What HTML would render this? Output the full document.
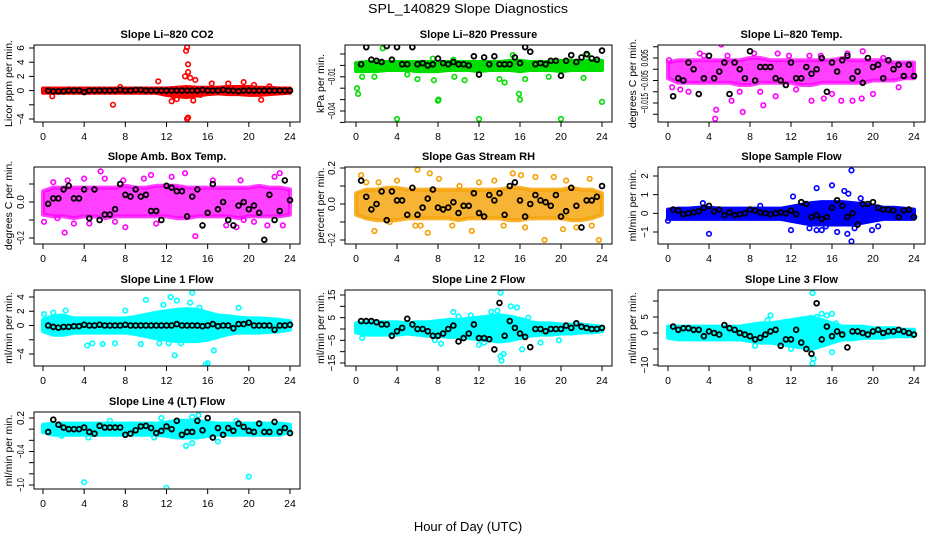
<!DOCTYPE html>
<html><head><meta charset="utf-8"><style>
html,body{margin:0;padding:0;background:#fff;}
svg{display:block;font-family:"Liberation Sans",sans-serif;}
</style></head><body>
<svg id="fig" width="936" height="540" viewBox="0 0 936 540" xmlns="http://www.w3.org/2000/svg">
<rect x="0" y="0" width="936" height="540" fill="#fff"/>
<text x="468" y="13" text-anchor="middle" font-size="13" textLength="200" lengthAdjust="spacingAndGlyphs">SPL_140829  Slope Diagnostics</text>
<text x="468" y="531" text-anchor="middle" font-size="13">Hour of Day (UTC)</text>
</svg>
<script>
const hourTicks = [0,4,8,12,16,20,24];
const blkHours = [0.5,1,1.5,2,2.5,3,3.5,4,4.5,5,5.5,6,6.5,7,7.5,8,8.5,9,9.5,10,10.5,11,11.5,12,12.5,13,13.5,14,14.5,15,15.5,16,16.5,17,17.5,18,18.5,19,19.5,20,20.5,21,21.5,22,22.5,23,23.5,24];

// CO2
const co2Ticks = [6,4,2,0,-2,-4];
const co2Labels = ['6','4','2','0','','-4'];
const co2BandLo = [-0.3,-0.3,-0.3,-0.3,-0.3,-0.3,-0.3,-0.3,-0.3,-0.3,-0.3,-0.3,-0.6,-0.8,-0.9,-0.7,-0.5,-0.4,-0.5,-0.5,-0.6,-0.6,-0.5,-0.4,-0.3];
const co2BandHi = [0.3,0.3,0.3,0.3,0.3,0.3,0.3,0.3,0.3,0.3,0.3,0.3,0.3,0.4,0.5,0.4,0.4,0.4,0.5,0.5,0.5,0.4,0.4,0.3,0.3];
const co2OutX = [14,13.9,14.1,14.1,13.8,14.3,14.8,11.2,6.8,14,14.1,19.5,16.4,12.5,13,14.6,21.2,0.9,7.5,18,20.5,22,12.7,15.3];
const co2OutY = [6.1,5.6,3.7,2.6,2.0,1.8,1.5,1.3,-2,-4,-3.8,1.2,1,-1.5,-1.2,-1.4,-1.3,-0.8,0.5,1,0.8,0.6,-0.8,-0.6];
const co2Blk = [0,-0.1,-0.1,-0.1,0,0,0,-0.2,0,0,0,0,0,0,0.1,0,0,0.1,0.1,0,0,0,0,0,0,0,0,0,0,0,0.1,0,0,0,0.1,0,0,-0.1,0,0,0,0,0,0,0,0,0,0];

// Pressure
const presTicks = [0.01,0,-0.01,-0.02,-0.03,-0.04,-0.05];
const presLabels = ['','','-0.01','','','-0.04',''];
const presBandLo = [-0.005,-0.005,-0.005,-0.004,-0.004,-0.004,-0.005,-0.005,-0.005,-0.004,-0.004,-0.004,-0.005,-0.004,-0.004,-0.004,-0.005,-0.004,-0.004,-0.004,-0.005,-0.004,-0.004,-0.004,-0.004];
const presBandHi = [0.002,0.003,0.003,0.003,0.003,0.003,0.003,0.003,0.003,0.003,0.003,0.003,0.003,0.003,0.003,0.004,0.004,0.003,0.003,0.003,0.004,0.004,0.004,0.004,0.004];
const presOutX = [0.1,0.2,0.6,2.6,4,8,8.05,12,20,15.9,16,24,10.6,14,14.5,7.6,9.6,16.5,18.8,22.2,15.3,22.6,7.5,9.5,1.8,5,6];
const presOutY = [-0.02,-0.025,-0.01,0.015,-0.047,-0.031,-0.03,-0.047,-0.047,-0.025,-0.03,-0.032,-0.013,-0.012,-0.015,-0.013,-0.01,-0.012,-0.01,-0.011,0.009,0.009,0.006,0.005,-0.01,-0.008,-0.012];
const presBlk = [0.001,0.016,0.005,0.004,0.003,0.017,0.005,0.016,0.001,0.001,0.016,0.001,0.002,0,0.001,0.006,0.002,0.001,0.003,0.001,0.001,0,0.008,-0.008,0.007,0.001,0.008,0.001,0.001,0.001,0.007,0.002,0.016,0.012,0.001,0.002,0.001,0.004,0.004,-0.009,0.004,0.009,0.003,0.007,0.01,0.006,0.005,0.013];

// Li-820 temp
const tempTicks = [0.01,0.005,0,-0.005,-0.01,-0.015,-0.02];
const tempLabels = ['','0.005','','-0.005','','-0.015',''];
const tempBandLo = [-0.004,-0.006,-0.006,-0.006,-0.006,-0.006,-0.006,-0.007,-0.007,-0.006,-0.006,-0.006,-0.006,-0.007,-0.007,-0.006,-0.006,-0.006,-0.006,-0.006,-0.005,-0.005,-0.005,-0.004,-0.004];
const tempBandHi = [0.003,0.004,0.004,0.004,0.004,0.004,0.004,0.004,0.005,0.005,0.004,0.004,0.004,0.004,0.004,0.004,0.004,0.005,0.004,0.004,0.004,0.004,0.003,0.003,0.003];
const tempOutX = [0.1,5.2,13.3,4.6,4.7,7.3,9.3,14,15.2,16.9,18,18.9,10.7,19,17.5,3.1,5.8,8.4,11.8,13.8,14.9,6.2,2,10.5,12.5,20,1.2,22.5,3.5,9,16,21,0.4,7];
const tempOutY = [0.004,0.011,0.012,-0.022,-0.018,-0.019,-0.016,-0.014,-0.013,-0.014,-0.014,-0.013,0.007,0.008,0.007,0.007,0.006,0.007,0.006,0.006,0.006,-0.014,-0.01,-0.012,-0.009,-0.011,-0.009,-0.008,0.006,-0.01,-0.011,0.005,-0.008,-0.01];
const tempBlk = [-0.012,-0.004,-0.005,0.003,0,-0.011,-0.004,0.006,-0.004,-0.001,0.003,-0.011,0.003,0,-0.004,0.008,-0.005,0.001,0.001,0.001,-0.004,-0.005,-0.007,0.003,-0.004,-0.004,0.001,-0.002,0,0.005,-0.01,0.003,-0.001,0.004,0.006,-0.004,-0.001,-0.006,0.005,0.001,0.002,-0.004,0.004,0,0.002,-0.003,0.002,-0.003];

// Amb box temp
const ambTicks = [0.1,0,-0.1,-0.2];
const ambLabels = ['','0.0','','-0.2'];
const ambBandLo = [-0.07,-0.08,-0.08,-0.09,-0.08,-0.08,-0.09,-0.08,-0.08,-0.08,-0.08,-0.08,-0.08,-0.09,-0.09,-0.08,-0.08,-0.08,-0.08,-0.09,-0.08,-0.08,-0.08,-0.08,-0.07];
const ambBandHi = [0.06,0.08,0.08,0.08,0.08,0.08,0.08,0.08,0.09,0.08,0.08,0.09,0.09,0.09,0.08,0.08,0.08,0.08,0.08,0.08,0.08,0.09,0.08,0.08,0.07];
const ambOutX = [2.1,14.8,5.6,4,0.1,1.4,3,6,7,9.8,10.5,13.8,16.5,19.2,23,23.3,18.8,20.5,21.8,8,2.4,11,15.5,17.8,4.5,12.5,22.5,1,7.8,19.5];
const ambOutY = [-0.17,-0.19,0.17,0.13,-0.11,-0.09,-0.12,0.13,-0.11,0.13,0.15,0.16,0.12,0.12,0.16,-0.13,-0.14,-0.11,-0.13,-0.14,0.12,-0.12,-0.13,-0.13,-0.12,0.14,0.14,0.11,0.12,-0.1];
const ambBlk = [-0.01,0.02,0.02,0.07,0.09,0.02,0.02,0.07,-0.09,0.07,-0.1,-0.07,-0.07,-0.04,0.1,0.04,0.03,0.07,0.03,0.04,-0.05,-0.05,-0.1,0.09,0.08,0.06,0.06,-0.08,0.03,0.07,-0.13,-0.06,0.1,-0.04,0,-0.1,-0.13,-0.02,0,-0.04,-0.02,-0.06,-0.21,0.04,-0.1,-0.05,0.12,0.01];

// Gas stream RH
const rhTicks = [0.2,0.1,0,-0.1,-0.2];
const rhLabels = ['0.2','','0.0','','-0.2'];
const rhBandLo = [-0.06,-0.08,-0.09,-0.09,-0.09,-0.08,-0.08,-0.08,-0.08,-0.08,-0.09,-0.08,-0.08,-0.08,-0.08,-0.09,-0.09,-0.08,-0.08,-0.08,-0.08,-0.09,-0.09,-0.08,-0.06];
const rhBandHi = [0.06,0.08,0.08,0.09,0.09,0.08,0.08,0.08,0.08,0.08,0.08,0.08,0.08,0.08,0.08,0.09,0.09,0.08,0.08,0.08,0.08,0.09,0.08,0.08,0.06];
const rhOutX = [18.4,23.7,6,0.5,1.8,7,7.2,4,2.2,12,13.5,16.1,16.5,19.3,21.5,22.8,15.3,9.4,3.3,8.1,11.3,14.4,20.2,23,1,5.8,10.1,17.5,6.3,20.5];
const rhOutY = [-0.2,-0.2,0.19,0.16,-0.15,-0.16,0.17,0.13,0.12,0.12,0.13,0.16,-0.13,0.15,-0.13,0.14,0.17,-0.12,-0.1,0.14,-0.15,-0.12,-0.14,-0.12,0.12,-0.12,0.1,0.15,-0.12,0.13];
const rhBlk = [0.13,0.04,-0.03,0,0.07,-0.09,0.07,0.02,0.02,-0.06,0.09,-0.06,-0.02,0.03,0.08,-0.02,-0.03,-0.02,0.01,-0.05,-0.01,-0.01,0.06,-0.05,-0.07,0.05,0.02,0.06,-0.06,0.1,0.12,0.02,-0.07,0,0.05,0.02,0.01,-0.01,0.05,-0.07,-0.04,0.09,-0.01,-0.13,0.02,0.02,0.04,0.1];

// Sample flow
const sfTicks = [2,1,0,-1];
const sfLabels = ['2','1','0','-1'];
const sfBandLo = [-0.3,-0.3,-0.3,-0.3,-0.3,-0.3,-0.3,-0.3,-0.3,-0.3,-0.3,-0.3,-0.4,-0.5,-0.6,-0.6,-0.6,-0.6,-0.6,-0.5,-0.4,-0.3,-0.3,-0.3,-0.3];
const sfBandHi = [0.2,0.25,0.25,0.3,0.3,0.25,0.25,0.25,0.25,0.25,0.25,0.25,0.35,0.45,0.55,0.6,0.6,0.6,0.55,0.5,0.4,0.3,0.3,0.25,0.2];
const sfOutX = [17.9,16,14.5,17.2,12.2,4,17.9,17.5,18.2,19.9,12,16.5,15,14.5,13.8,9,3.4,18.8,20.5,0,17.6,15.4];
const sfOutY = [2.3,1.5,1.35,1.2,0.9,-1.1,-1.5,-1.1,-0.8,-0.9,-0.9,-1,-0.9,-0.9,-0.8,0.4,0.55,0.8,-0.7,-0.4,1.05,-0.7];
const sfBlk = [0.2,0.15,-0.05,0,0.05,0.1,0.3,0.4,0.1,0.2,-0.1,0.05,-0.1,-0.05,0,0.2,0.15,0.05,0,-0.05,0,0.05,0,0.15,-0.05,0.6,0.5,-0.2,-0.1,-0.3,-0.2,0.3,0.7,0.4,-0.2,0,-0.6,0.5,0.5,0.6,0.3,0.2,0.2,0.15,-0.2,0.15,0.2,-0.2];

// Line 1
const l1Ticks = [4,2,0,-2,-4];
const l1Labels = ['4','2','0','','-4'];
const l1BandLo = [-0.8,-1.3,-1.3,-1,-1,-1,-1,-1,-1,-1.2,-1.5,-1.8,-2,-2.2,-2.2,-2.2,-2,-1.6,-1.2,-1,-1,-1,-0.9,-0.8,-0.6];
const l1BandHi = [0.8,1.3,1.4,1,1,1,1,1,1,1.2,1.5,1.8,2,2.2,2.3,2.2,1.8,1.4,1.3,1.1,1,1,0.9,0.8,0.6];
const l1OutX = [14.5,12.4,13,10,15.8,16,12.8,16.6,4.3,4.8,5.8,9.5,12.2,2.2,19,1,11.7,13.4,0.1,7,14.3,15.2,11.3,8];
const l1OutY = [4.6,4,3.5,3.6,-5.5,-5.3,-4.2,-3.5,-2.8,-2.5,-2.6,-2.6,-2.5,2.1,2.5,1.8,2.9,-2.5,1.6,-2.5,3.2,2.5,-2.5,2.1];
const l1Blk = [0,-0.2,-0.3,-0.2,-0.2,-0.1,-0.1,0.1,0,0,0.1,0,0,0,0,0.1,0,0,0,0,0,0,0,0,0,0.2,0,0,0,0,-0.1,0,0.2,-0.1,0,0,-0.4,0.2,0.2,0.4,0,0,0,0,-0.6,0,0,0.1];

// Line 2
const l2Ticks = [15,10,5,0,-5,-10,-15];
const l2Labels = ['15','','5','','-5','','-15'];
const l2BandLo = [-1.5,-2.5,-2.5,-2.5,-2.5,-2,-2.5,-3,-3,-3.5,-3.5,-4,-4.5,-5,-5.5,-5,-4,-3,-2.5,-2.5,-2,-2,-1.5,-1.5,-1];
const l2BandHi = [2.5,3,3,3,3,2.5,3,3,3.5,4,4,4.5,5,5.5,6,5.5,4.5,3,2.5,2.5,2,2,2,1.5,1];
const l2OutX = [14.1,14.2,14.4,14.1,15.1,15.7,13.2,11.2,16.2,18,19.8,0.6,7.7,8.3,12,10,12.5,9.5,16.8,13.8];
const l2OutY = [16,-14,-11,-12,10,9.5,7.6,6,-9,-6,-5,-4,-5,-6.5,-7,5.5,-6,7.5,5,8];
const l2Blk = [3.5,3.5,3.5,3,2,2,-3,-1,0.5,4.5,2,0,0,-1,-3,-3,-2,0,1.5,-5.5,-4,-2,2,-4,-4,-4.5,-9,11.5,-3,3.5,0.5,-2,-3.5,-8,0,0,-1,0,0,0,1.5,0.5,2.5,1,0.5,0,0,0.5];

// Line 3
const l3Ticks = [10,5,0,-5,-10];
const l3Labels = ['','5','0','','-10'];
const l3BandLo = [-1.5,-2,-2,-2,-2,-2,-2,-2,-2.5,-3,-3,-3.5,-4,-4.5,-5,-4,-3,-2,-2,-1.5,-1.5,-1.5,-1,-1,-1];
const l3BandHi = [2,2,2,2,2,2,2,2,2.5,3,3,3.5,4,4.5,5,4,3,2,2,2,1.5,1.5,1.5,1,1];
const l3OutX = [14.1,14.1,14.2,16,15,16,10,9.7,12,11,8.5,14.5,13.2,15.5,16.4];
const l3OutY = [12.5,-9.5,-8,-6,6,6,5.5,4,-5,-4,-4,5,-3.5,5.5,3];
const l3Blk = [2,1,1.5,1.5,1,1,-1,0.5,0,-0.5,2.5,1.5,1,0,-0.5,-1,-2,-1.5,-0.5,0.5,1,-4,-2,-2,1,-3,-5,-6.5,9.3,-2,2,-1,0.5,-0.5,-4.5,0.5,0.5,0,-0.5,0.5,1,0,0.5,0.5,1,0.5,0,-0.5];

// Line 4
const l4Ticks = [0.2,0,-0.2,-0.4,-0.6,-0.8,-1.0];
const l4Labels = ['0.2','','','-0.4','','','-1.0'];
const l4BandLo = [-0.05,-0.1,-0.1,-0.1,-0.1,-0.1,-0.1,-0.1,-0.1,-0.1,-0.1,-0.1,-0.12,-0.15,-0.15,-0.15,-0.12,-0.1,-0.1,-0.1,-0.1,-0.1,-0.1,-0.1,-0.05];
const l4BandHi = [0.08,0.1,0.1,0.1,0.1,0.1,0.1,0.1,0.1,0.1,0.1,0.1,0.12,0.15,0.15,0.15,0.12,0.1,0.1,0.1,0.1,0.1,0.1,0.1,0.08];
const l4OutX = [4,12,20,13.9,14.5,14.5,15.1,11.5,17,4.4,10.8,1.8,6.5,18.8];
const l4OutY = [-0.95,-1.05,-0.85,-0.3,-0.25,0.22,0.25,0.2,-0.22,-0.15,-0.15,-0.12,0.15,0.15];
const l4Blk = [-0.05,0.17,0.08,0.03,0,0,0,0.03,-0.05,-0.08,0.06,0.03,0.03,0.03,0.03,-0.1,-0.08,-0.02,0.05,0.06,0.02,-0.07,-0.03,0.05,0,0.15,-0.1,-0.05,-0.05,0.15,-0.02,0.2,-0.15,0.02,-0.1,0.02,-0.03,0.1,0.04,-0.03,-0.05,0.1,-0.05,-0.05,0.13,-0.05,0.02,-0.07];

const cols = [{bx0:34,bx1:300,h0:43,h24:290,yl:9},{bx0:345,bx1:612,h0:356,h24:602,yl:321},{bx0:658,bx1:925,h0:668,h24:914,yl:633}];
const rows = [{by0:45,by1:122,ty:38},{by0:167,by1:244,ty:160},{by0:290,by1:366,ty:283},{by0:412,by1:489,ty:405}];

const panels = [
 {c:0,r:0,name:'co2',title:'Slope Li\u2013820 CO2',ylab:'Licor ppm per min.',col:'#ff0000',ya:[6,48,-4,119],ticks:co2Ticks,labels:co2Labels,lo:co2BandLo,hi:co2BandHi,ox:co2OutX,oy:co2OutY,blk:co2Blk,op:1},
 {c:1,r:0,name:'pressure',title:'Slope Li\u2013820 Pressure',ylab:'kPa per min.',col:'#00dd00',ya:[0.01,54,-0.04,111],ticks:presTicks,labels:presLabels,lo:presBandLo,hi:presBandHi,ox:presOutX,oy:presOutY,blk:presBlk,op:1},
 {c:2,r:0,name:'li820-temp',title:'Slope Li\u2013820 Temp.',ylab:'degrees C per min.',col:'#ff00ff',ya:[0.005,58,-0.015,103],ticks:tempTicks,labels:tempLabels,lo:tempBandLo,hi:tempBandHi,ox:tempOutX,oy:tempOutY,blk:tempBlk,op:0.75},
 {c:0,r:1,name:'amb-box-temp',title:'Slope Amb. Box Temp.',ylab:'degrees C per min.',col:'#ff00ff',ya:[0,202,-0.2,238],ticks:ambTicks,labels:ambLabels,lo:ambBandLo,hi:ambBandHi,ox:ambOutX,oy:ambOutY,blk:ambBlk,op:0.75},
 {c:1,r:1,name:'gas-stream-rh',title:'Slope Gas Stream RH',ylab:'percent per min.',col:'#f5a000',ya:[0.2,168,-0.2,240],ticks:rhTicks,labels:rhLabels,lo:rhBandLo,hi:rhBandHi,ox:rhOutX,oy:rhOutY,blk:rhBlk,op:0.8},
 {c:2,r:1,name:'sample-flow',title:'Slope Sample Flow',ylab:'ml/min per min.',col:'#0000ff',ya:[2,176,-1,232],ticks:sfTicks,labels:sfLabels,lo:sfBandLo,hi:sfBandHi,ox:sfOutX,oy:sfOutY,blk:sfBlk,op:1},
 {c:0,r:2,name:'line1-flow',title:'Slope Line 1 Flow',ylab:'ml/min per min.',col:'#00ffff',ya:[4,297,-4,354],ticks:l1Ticks,labels:l1Labels,lo:l1BandLo,hi:l1BandHi,ox:l1OutX,oy:l1OutY,blk:l1Blk,op:1},
 {c:1,r:2,name:'line2-flow',title:'Slope Line 2 Flow',ylab:'ml/min per min.',col:'#00ffff',ya:[15,295,-15,363],ticks:l2Ticks,labels:l2Labels,lo:l2BandLo,hi:l2BandHi,ox:l2OutX,oy:l2OutY,blk:l2Blk,op:1},
 {c:2,r:2,name:'line3-flow',title:'Slope Line 3 Flow',ylab:'ml/min per min.',col:'#00ffff',ya:[5,317,-10,365],ticks:l3Ticks,labels:l3Labels,lo:l3BandLo,hi:l3BandHi,ox:l3OutX,oy:l3OutY,blk:l3Blk,op:1},
 {c:0,r:3,name:'line4-flow',title:'Slope Line 4 (LT) Flow',ylab:'ml/min per min.',col:'#00ffff',ya:[0.2,418,-1.0,485],ticks:l4Ticks,labels:l4Labels,lo:l4BandLo,hi:l4BandHi,ox:l4OutX,oy:l4OutY,blk:l4Blk,op:1}
];

const NS='http://www.w3.org/2000/svg';
const svg=document.getElementById('fig');
function mk(tag,attrs,parent){const e=document.createElementNS(NS,tag);for(const k in attrs)e.setAttribute(k,attrs[k]);(parent||svg).appendChild(e);return e;}

panels.forEach(p=>{
  const C=cols[p.c],R=rows[p.r];
  const xs=h=>C.h0+(C.h24-C.h0)*h/24;
  const ys=v=>p.ya[1]+(v-p.ya[0])*(p.ya[3]-p.ya[1])/(p.ya[2]-p.ya[0]);
  const g=mk('g',{});
  
  
  const t=mk('text',{x:(C.bx0+C.bx1)/2,y:R.ty,'text-anchor':'middle','font-size':'11','font-weight':'bold'},g);
  
  
  t.textContent=p.title;
  const cy=(R.by0+R.by1)/2;
  const yl=mk('text',{x:C.yl,y:cy,'text-anchor':'middle','font-size':'10.5',transform:`rotate(-90 ${C.yl} ${cy})`,'dominant-baseline':'middle'},g);
  
  
  yl.textContent=p.ylab;
  const clipId='clip-'+p.name;
  const cp=mk('clipPath',{id:clipId},g);
  mk('rect',{x:C.bx0,y:R.by0,width:C.bx1-C.bx0,height:R.by1-R.by0},cp);
  const pg=mk('g',{'clip-path':`url(#${clipId})`},g);
  let pts=[];
  p.hi.forEach((v,i)=>pts.push(xs(i)+','+ys(v)));
  for(let i=p.lo.length-1;i>=0;i--)pts.push(xs(i)+','+ys(p.lo[i]));
  const band=mk('polygon',{points:pts.join(' '),fill:p.col,'fill-opacity':p.op,stroke:p.col,'stroke-width':'4','stroke-linejoin':'round','stroke-opacity':p.op},pg);
  
  
  p.ox.forEach((x,i)=>{
    const c=mk('circle',{cx:xs(x),cy:ys(p.oy[i]),r:2.3,fill:'none',stroke:p.col,'stroke-width':'1.6'},pg);
    
    
  });
  p.blk.forEach((v,i)=>{
    const c=mk('circle',{cx:xs(blkHours[i]),cy:ys(v),r:2.4,fill:'none',stroke:'#000','stroke-width':'1.8'},pg);
    
    
  });
  const box=mk('rect',{x:C.bx0,y:R.by0,width:C.bx1-C.bx0,height:R.by1-R.by0,fill:'none',stroke:'#000','stroke-width':'1'},g);
  
  
  mk('line',{x1:xs(0),x2:xs(24),y1:R.by1,y2:R.by1,stroke:'#000'},g);
  hourTicks.forEach(h=>{
    mk('line',{x1:xs(h),x2:xs(h),y1:R.by1,y2:R.by1+5,stroke:'#000'},g);
    const tl=mk('text',{x:xs(h),y:R.by1+18,'text-anchor':'middle','font-size':'10.5'},g);
    
    
    tl.textContent=h;
  });
  const yt0=ys(p.ticks[0]),yt1=ys(p.ticks[p.ticks.length-1]);
  mk('line',{x1:C.bx0,x2:C.bx0,y1:yt0,y2:yt1,stroke:'#000'},g);
  p.ticks.forEach((v,i)=>{
    const y=ys(v);
    mk('line',{x1:C.bx0-5,x2:C.bx0,y1:y,y2:y,stroke:'#000'},g);
    if(p.labels[i]){
      const lx=C.bx0-10;
      const s=p.labels[i];
      const attrs={x:lx,y:y,'text-anchor':'middle','font-size':'10',transform:`rotate(-90 ${lx} ${y})`};
      if(s.length>=4){attrs.textLength=(s.length*3.4).toFixed(1);attrs.lengthAdjust='spacingAndGlyphs';}
      const tl=mk('text',attrs,g);
      
      
      tl.textContent=s.replace('-','\u2212');
    }
  });
});
</script>
</body></html>
